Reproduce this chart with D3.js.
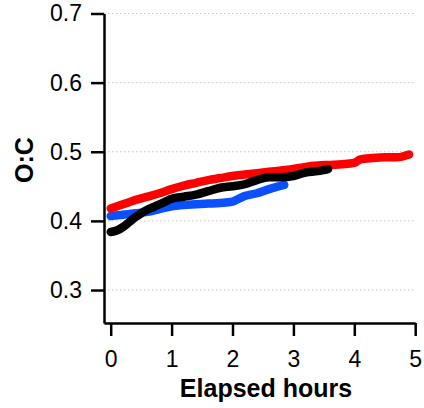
<!DOCTYPE html>
<html>
<head>
<meta charset="utf-8">
<script src="https://cdn.jsdelivr.net/npm/d3@7"></script>
<style>
  body { margin: 0; background: #fff; }
  svg text { font-family: "Liberation Sans", Arial, sans-serif; }
</style>
</head>
<body>
<div id="chart"></div>
<script>
var redHours   = [0, 0.2, 0.4, 0.6, 0.8, 1.0, 1.2, 1.4, 1.6, 1.8, 2.0, 2.2, 2.4, 2.6, 2.8, 3.0, 3.2, 3.4, 3.6, 3.8, 4.0, 4.1, 4.3, 4.5, 4.7, 4.9];
var redOC      = [0.418, 0.424, 0.430, 0.435, 0.440, 0.446, 0.451, 0.455, 0.459, 0.462, 0.465, 0.467, 0.469, 0.471, 0.473, 0.475, 0.478, 0.480, 0.481, 0.482, 0.484, 0.489, 0.491, 0.492, 0.492, 0.496];

var blueHours  = [0, 0.2, 0.4, 0.6, 0.8, 1.0, 1.2, 1.4, 1.6, 1.8, 2.0, 2.1, 2.2, 2.4, 2.6, 2.8, 2.85, null, 3.0, 3.3, 3.55];
var blueOC     = [0.407, 0.409, 0.411, 0.413, 0.417, 0.421, 0.423, 0.424, 0.425, 0.426, 0.428, 0.432, 0.436, 0.440, 0.446, 0.451, 0.452, null, 0.470, 0.472, 0.475];

var blackHours = [0, 0.1, 0.2, 0.3, 0.4, 0.5, 0.6, 0.7, 0.8, 0.9, 1.0, 1.2, 1.4, 1.6, 1.8, 2.0, 2.2, 2.4, 2.6, 2.8, 3.0, 3.2, 3.4, 3.57];
var blackOC    = [0.384, 0.386, 0.391, 0.398, 0.405, 0.411, 0.416, 0.420, 0.424, 0.428, 0.432, 0.435, 0.438, 0.443, 0.448, 0.450, 0.453, 0.459, 0.463, 0.463, 0.465, 0.470, 0.472, 0.475];

var xTicks = [0, 1, 2, 3, 4, 5];
var yTicks = [0.3, 0.4, 0.5, 0.6, 0.7];

var width = 424, height = 408;

var svg = d3.select("#chart")
    .append("svg")
    .attr("width", width)
    .attr("height", height);

// scales (domains stretched so the axis lines stop where the original ones do)
var x = d3.scaleLinear().domain([-0.11, 5]).range([104, 415.2]);
var y = d3.scaleLinear().domain([0.2523, 0.7]).range([323, 13.5]);

// dotted gridlines
svg.append("g")
    .selectAll("line")
    .data(yTicks)
    .enter().append("line")
    .attr("x1", x(-0.11))
    .attr("x2", x(5))
    .attr("y1", function (d) { return y(d); })
    .attr("y2", function (d) { return y(d); })
    .style("stroke", "#c4c4c4")
    .style("stroke-width", 1)
    .style("stroke-dasharray", "1.5,2.5");

// series
function toPoints(xs, ys) {
    return xs.map(function (d, i) { return { h: d, v: ys[i] }; });
}

var line = d3.line()
    .defined(function (d) { return d.h !== null; })
    .x(function (d) { return x(d.h); })
    .y(function (d) { return y(d.v); })
    .curve(d3.curveMonotoneX);

var series = [
    { pts: toPoints(blueHours, blueOC), color: "#0a50ff" },
    { pts: toPoints(redHours, redOC), color: "#ff0000" },
    { pts: toPoints(blackHours, blackOC), color: "#000000" }
];

svg.selectAll(".series")
    .data(series)
    .enter().append("path")
    .attr("class", "series")
    .attr("d", function (d) { return line(d.pts); })
    .style("fill", "none")
    .style("stroke", function (d) { return d.color; })
    .style("stroke-width", 8.5)
    .style("stroke-linecap", "round")
    .style("stroke-linejoin", "round");

// axes
var xAxis = svg.append("g")
    .attr("transform", "translate(0," + y(0.2523) + ")")
    .call(d3.axisBottom(x).tickValues(xTicks).tickSize(13).tickSizeOuter(0).tickPadding(15)
        .tickFormat(d3.format("d")));

var yAxis = svg.append("g")
    .attr("transform", "translate(" + x(-0.11) + ",0)")
    .call(d3.axisLeft(y).tickValues(yTicks).tickSize(13).tickSizeOuter(0).tickPadding(9)
        .tickFormat(d3.format(".1f")));

[xAxis, yAxis].forEach(function (g) {
    g.select(".domain").style("stroke", "#000").style("stroke-width", 2.5);
    g.selectAll(".tick line").style("stroke", "#000").style("stroke-width", 2.5);
    g.selectAll(".tick text")
        .style("font-size", "23px")
        .style("font-family", "'Liberation Sans', Arial, sans-serif")
        .style("fill", "#000");
});

// axis titles
svg.append("text")
    .attr("x", 266)
    .attr("y", 397)
    .attr("text-anchor", "middle")
    .style("font-size", "25px")
    .style("font-weight", "bold")
    .text("Elapsed hours");

svg.append("text")
    .attr("transform", "translate(33,160) rotate(-90)")
    .attr("text-anchor", "middle")
    .style("font-size", "25px")
    .style("font-weight", "bold")
    .text("O:C");
</script>
</body>
</html>
